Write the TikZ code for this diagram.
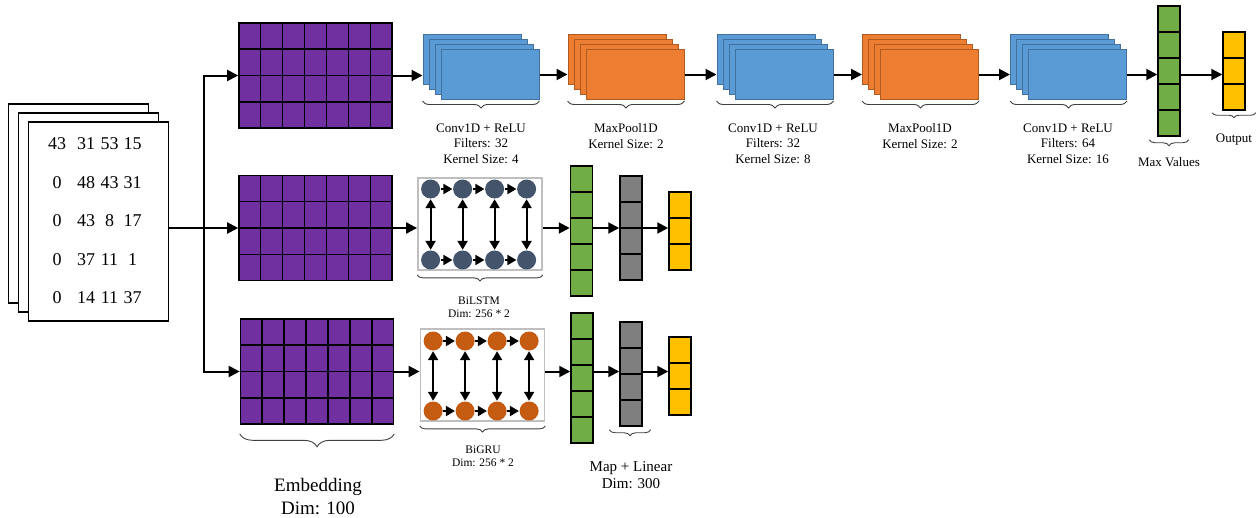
\documentclass[tikz,border=0pt]{standalone}
\usepackage{fontspec}
\setmainfont{Liberation Serif}
\usetikzlibrary{arrows.meta, positioning, calc, decorations.pathreplacing}
\definecolor{cpurple}{HTML}{7030A0}
\definecolor{cblue}{HTML}{5B9BD5}
\definecolor{cblueline}{HTML}{41719C}
\definecolor{corange}{HTML}{ED7D31}
\definecolor{corangeline}{HTML}{AE5A21}
\definecolor{cgreen}{HTML}{70AD47}
\definecolor{cgrey}{HTML}{7F7F7F}
\definecolor{cyellow}{HTML}{FFC000}
\definecolor{cnavy}{HTML}{44546A}
\definecolor{crust}{HTML}{C55A11}
\definecolor{cframe}{HTML}{BFBFBF}
\tikzset{
  every picture/.style={line width=1.4pt},
  docsheet/.style={draw, fill=white, line width=1.8pt, minimum width=140pt, minimum height=199pt, inner sep=0pt},
  num/.style={font=\fontsize{18}{18}\selectfont, inner sep=0pt},
  emb/.style={draw, fill=cpurple, line width=1.6pt, minimum width=153pt, minimum height=105pt, inner sep=0pt},
  fmap/.style={draw=#1line, fill=#1, line width=1pt, minimum width=98pt, minimum height=50pt, inner sep=0pt},
  cell/.style={draw=black, fill=#1, line width=1.5pt, minimum width=22pt, minimum height=26pt, inner sep=0pt},
  unit/.style={circle, fill=#1, minimum size=19pt, inner sep=0pt},
  rnnbox/.style={draw=cframe, line width=1.8pt, minimum width=124pt, minimum height=92pt, inner sep=0pt},
  arrow/.style={-{Triangle[length=11pt, width=11pt]}, line width=2pt},
  link/.style={-{Triangle[length=9pt, width=10pt]}, line width=2pt},
  twoway/.style={{Triangle[length=9pt, width=10pt]}-{Triangle[length=9pt, width=10pt]}, line width=2pt},
  brace/.style={decorate, decoration={brace, mirror, amplitude=#1}, draw=black!75, line width=0.9pt},
  brace/.default=7pt,
  lbl/.style={font=\fontsize{13}{15.5}\selectfont, align=center, inner sep=0pt, anchor=north},
}

\begin{document}
\begin{tikzpicture}[x=1pt, y=-1pt]
  \useasboundingbox (0,0) rectangle (1256,517);
  % input sequences
  \node[docsheet] (docb) at (78.5,203.5) {};
  \node[docsheet] (docm) at (88.5,212.5) {};
  \node[docsheet] (doc) at (98.5,221.5) {};
  \foreach \r/\a/\b/\cc/\d in {0/43/31/53/15, 1/0/48/43/31, 2/0/43/8/17, 3/0/37/11/1, 4/0/14/11/37}
    \foreach \v/\x [count=\c from 0] in {\a/57,\b/86,\cc/109.5,\d/132.5}
      \node[num] (n\r\c) at (\x,144+38.5*\r) {\v};
  % three embeddings
  \node[emb] (e1) at (315.5,75.5) {};
  \node[emb] (e2) at (315.5,228) {};
  \node[emb] (e3) at (317,371.5) {};
  \foreach \e in {e1,e2,e3} {
    \foreach \i in {1,...,6} \draw[line width=1.5pt] ($(\e.north west)!\i/7!(\e.north east)$) -- ($(\e.south west)!\i/7!(\e.south east)$);
    \foreach \i in {1,2,3} \draw[line width=1.5pt] ($(\e.north west)!\i/4!(\e.south west)$) -- ($(\e.north east)!\i/4!(\e.south east)$);
  }
  \coordinate (split) at ($(doc.east |- e2.west)!0.5!(e2.west)$);
  \draw[arrow] (doc.east |- e2.west) -- (e2.west);
  \draw[arrow] (split) |- (e1.west);
  \draw[arrow] (split) |- (e3.west);
  % cnn branch
  \foreach \s/\c/\x in {conv1/cblue/490, pool1/corange/635, conv2/cblue/784, pool2/corange/929.5, conv3/cblue/1077.5}
    \foreach \k in {3,2,1,0} \node[fmap=\c] (\s-\k) at (\x-6*\k,74.5-5*\k) {};
  \foreach \n/\c/\x/\y/\m in {mv/cgreen/1169/6/5, out/cyellow/1234/32/3, g2/cgreen/581.5/166/5, h2/cgrey/631/176/4, y2/cyellow/680/192/3, g3/cgreen/582/313/5, h3/cgrey/631/322/4, y3/cyellow/680/337/3}
    \foreach \k in {1,...,\m} \node[cell=\c] (\n\k) at (\x,\y-13+26*\k) {};
  \draw[arrow] (e1.east) -- (e1.east -| conv1-3.west);
  \draw[arrow] (conv1-0.east) -- (conv1-0.east -| pool1-3.west);
  \draw[arrow] (pool1-0.east) -- (pool1-0.east -| conv2-3.west);
  \draw[arrow] (conv2-0.east) -- (conv2-0.east -| pool2-3.west);
  \draw[arrow] (pool2-0.east) -- (pool2-0.east -| conv3-3.west);
  \draw[arrow] (conv3-0.east) -- (conv3-0.east -| mv3.west);
  \draw[arrow] (conv3-0.east -| mv3.east) -- (conv3-0.east -| out2.west);
  \foreach \s in {conv1, pool1, conv2, pool2, conv3}
    \draw[brace] ([yshift=-1pt]\s-3.west |- \s-0.south) -- ([yshift=-1pt]\s-0.south east);
  \node[lbl] (conv1-txt) at (481,123) {Conv1D + ReLU\\Filters: 32\\Kernel Size: 4};
  \node[lbl] (pool1-txt) at (626,123) {MaxPool1D\\Kernel Size: 2};
  \node[lbl] (conv2-txt) at (773,123) {Conv1D + ReLU\\Filters: 32\\Kernel Size: 8};
  \node[lbl] (pool2-txt) at (920,123) {MaxPool1D\\Kernel Size: 2};
  \node[lbl] (conv3-txt) at (1068,123) {Conv1D + ReLU\\Filters: 64\\Kernel Size: 16};
  \draw[brace=6pt] ([xshift=-8pt, yshift=-3pt]mv5.south west) -- ([xshift=8pt, yshift=-3pt]mv5.south east);
  \draw[brace=5pt] ([xshift=-10pt, yshift=-2pt]out3.south west) -- ([xshift=10pt, yshift=-2pt]out3.south east);
  \node[lbl, font=\fontsize{13}{15}\selectfont] (mv-txt) at (1169,157) {Max Values};
  \node[lbl, font=\fontsize{13}{15}\selectfont] (out-txt) at (1234,133) {Output};
  % recurrent branches
  \node[rnnbox] (lstm) at (480,224) {};
  \node[rnnbox] (gru) at (482.5,375) {};
  \foreach \r/\c/\t/\b in {lstm/cnavy/189/260, gru/crust/341/411} {
    \foreach \i/\x in {1/0,2/32,3/64,4/96} {
      \node[unit=\c] (\r t\i) at ($(\r.west |- 0,\t)+(13.5+\x,0)$) {};
      \node[unit=\c] (\r b\i) at ($(\r.west |- 0,\b)+(13.5+\x,0)$) {};
      \draw[twoway] (\r t\i) -- (\r b\i);
    }
    \foreach \i/\j in {1/2,2/3,3/4} {
      \draw[link] (\r t\i) -- (\r t\j);
      \draw[link] (\r b\i) -- (\r b\j);
    }
  }
  \draw[arrow] (e2.east) -- (e2.east -| lstm.west);
  \draw[arrow] (lstm.east |- e2) -- (g23.west |- e2);
  \draw[arrow] (g23.east |- e2) -- (h22.west |- e2);
  \draw[arrow] (h22.east |- e2) -- (y22.west |- e2);
  \draw[arrow] (e3.east) -- (e3.east -| gru.west);
  \draw[arrow] (gru.east |- e3) -- (g33.west |- e3);
  \draw[arrow] (g33.east |- e3) -- (h32.west |- e3);
  \draw[arrow] (h32.east |- e3) -- (y32.west |- e3);
  \draw[brace=6pt] ([yshift=-4pt]lstm.south west) -- ([yshift=-4pt]lstm.south east);
  \draw[brace=6pt] ([yshift=-4pt]gru.south west) -- ([yshift=-4pt]gru.south east);
  \node[lbl, font=\fontsize{11.5}{13.5}\selectfont] (lstm-txt) at (479,296) {BiLSTM\\Dim: 256 * 2};
  \node[lbl, font=\fontsize{11.5}{13.5}\selectfont] (gru-txt) at (483,445) {BiGRU\\Dim: 256 * 2};
  \draw[brace=6pt] ([xshift=-10pt, yshift=-3pt]h34.south west) -- ([xshift=8pt, yshift=-3pt]h34.south east);
  \node[lbl, font=\fontsize{15}{17}\selectfont] (map-txt) at (631,461) {Map + Linear\\Dim: 300};
  % embedding label
  \draw[brace=13pt] ([yshift=-9pt]e3.south west) -- ([yshift=-9pt]e3.south east);
  \node[lbl, font=\fontsize{19}{23}\selectfont] (emb-txt) at (318,478) {Embedding\\Dim: 100};
\end{tikzpicture}
\end{document}
